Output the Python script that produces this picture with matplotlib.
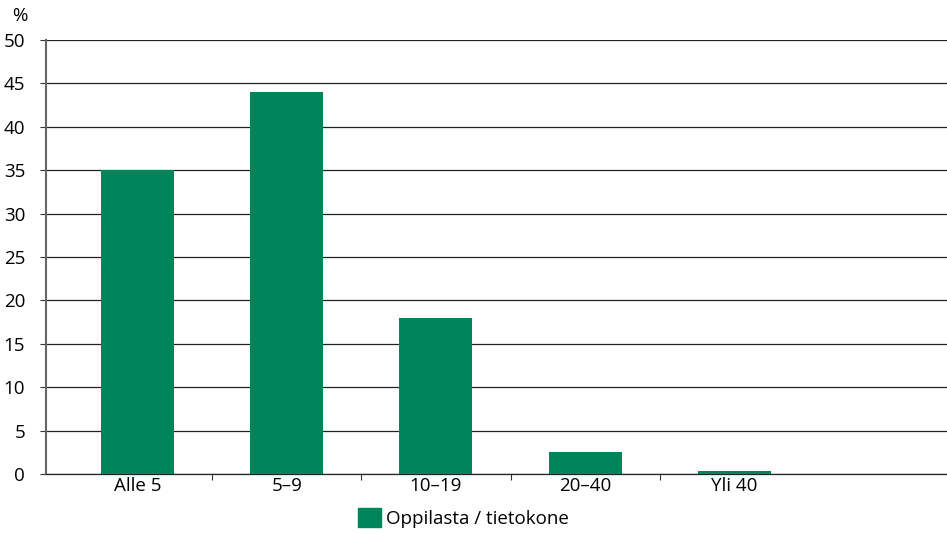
import matplotlib
matplotlib.use("Agg")
import matplotlib.pyplot as plt
from matplotlib.patches import Patch

categories = ["Alle 5", "5–9", "10–19", "20–40", "Yli 40"]
values = [35, 44, 18, 2.5, 0.35]
series_name = "Oppilasta / tietokone"
y_ticks = list(range(0, 55, 5))

green = "#00845A"
plt.rcParams["font.family"] = ["Open Sans", "DejaVu Sans"]
fs = 13.5

fig = plt.figure(figsize=(9.47, 5.33), dpi=100)
ax = fig.add_axes([0.0486, 0.1107, 0.9514, 0.8143])

x = list(range(len(categories)))
ax.bar(x, values, width=0.49, color=green, zorder=3)

ax.set_xlim(-0.614, 5.426)
ax.set_ylim(0, 50)
ax.set_yticks(y_ticks)
ax.set_yticklabels([str(v) for v in y_ticks], fontsize=fs)
ax.yaxis.grid(True, color="#222222", linewidth=0.9, zorder=0)

# category labels sit between boundary ticks
ax.set_xticks([i + 0.5 for i in range(len(categories) - 1)])
ax.set_xticklabels([])
ax.set_xticks(x, minor=True)
ax.set_xticklabels(categories, minor=True, fontsize=fs)
ax.tick_params(axis="x", which="minor", length=0, pad=2)
ax.tick_params(axis="x", which="major", length=4, color="#333333")
ax.tick_params(axis="y", length=4, color="#333333", pad=11)

for side in ["top", "right"]:
    ax.spines[side].set_visible(False)
ax.spines["left"].set_color("#666666")
ax.spines["left"].set_linewidth(1.5)
ax.spines["bottom"].set_color("#222222")
ax.spines["bottom"].set_linewidth(0.9)

fig.text(0.021, 0.97, "%", fontsize=fs, ha="center", va="center")

fig.legend(handles=[Patch(color=green, label=series_name)],
           loc="center", bbox_to_anchor=(0.4895, 0.028), frameon=False,
           fontsize=fs, handlelength=1.2, handleheight=1.2, handletextpad=0.3)

fig.savefig("out.png", dpi=100)
